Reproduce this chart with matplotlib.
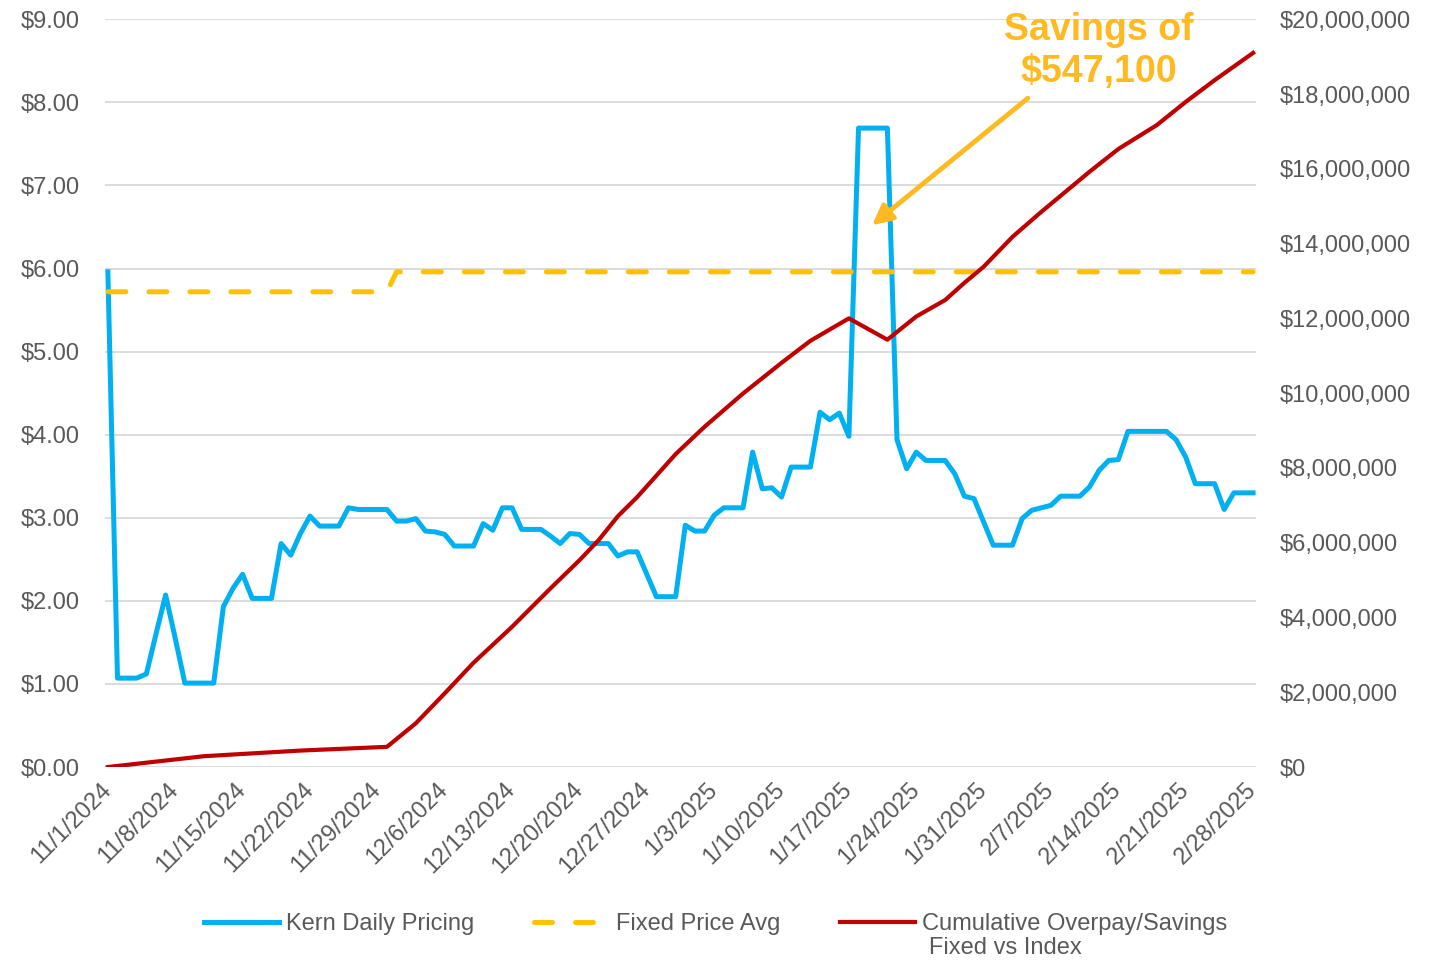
import numpy as np
import pandas as pd
import matplotlib
matplotlib.use("Agg")
import matplotlib.pyplot as plt
from matplotlib.ticker import FuncFormatter, MultipleLocator

plt.rcParams['font.family'] = ['Liberation Sans', 'DejaVu Sans']

# Data
dates = pd.date_range('2024-11-01', '2025-02-28', freq='D')

kern_daily = [
    5.96, 1.07, 1.07, 1.07, 1.12, 1.60, 2.07, 1.55, 1.01, 1.01,
    1.01, 1.01, 1.93, 2.15, 2.32, 2.03, 2.03, 2.03, 2.69, 2.55,
    2.81, 3.02, 2.90, 2.90, 2.90, 3.12, 3.10, 3.10, 3.10, 3.10,
    2.96, 2.96, 2.99, 2.84, 2.83, 2.80, 2.66, 2.66, 2.66, 2.93,
    2.85, 3.12, 3.12, 2.86, 2.86, 2.86, 2.78, 2.69, 2.81, 2.80,
    2.69, 2.69, 2.69, 2.54, 2.59, 2.59, 2.32, 2.05, 2.05, 2.05,
    2.91, 2.84, 2.84, 3.03, 3.12, 3.12, 3.12, 3.79, 3.35, 3.36,
    3.25, 3.61, 3.61, 3.61, 4.27, 4.18, 4.26, 3.98, 7.69, 7.69,
    7.69, 7.69, 3.94, 3.59, 3.79, 3.69, 3.69, 3.69, 3.53, 3.26,
    3.23, 2.95, 2.67, 2.67, 2.67, 2.99, 3.09, 3.12, 3.15, 3.26,
    3.26, 3.26, 3.37, 3.57, 3.69, 3.70, 4.04, 4.04, 4.04, 4.04,
    4.04, 3.94, 3.73, 3.41, 3.41, 3.41, 3.10, 3.30, 3.30, 3.30,
]

# fixed price: step change at the start of December
fixed_days = [0, 29, 30, 119]
fixed_price = [5.72, 5.72, 5.96, 5.96]

# cumulative overpay/savings (vertices of the line)
cum_days = [0, 10, 20, 29, 32, 35, 38, 42, 46, 49, 51, 53, 55, 59, 62, 66,
            70, 73, 77, 81, 84, 87, 89, 91, 94, 97, 102, 105, 109, 112, 115, 119]
cum_values = [0, 290000, 440000, 540000, 1170000, 1970000, 2790000, 3750000,
              4780000, 5530000, 6070000, 6710000, 7220000, 8370000, 9100000,
              9990000, 10810000, 11400000, 12000000, 11430000, 12050000,
              12490000, 12950000, 13380000, 14180000, 14850000, 15920000,
              16530000, 17170000, 17790000, 18370000, 19100000]

tick_idx = list(range(0, len(dates), 7))
tick_labels = [f"{d.month}/{d.day}/{d.year}" for d in dates[tick_idx]]

BLUE = '#00B0F0'
GOLD = '#FFC000'
RED = '#C00000'
ANNOT = '#FFB921'
GREY = '#595959'
FS = 17

fig = plt.figure(figsize=(14.4, 9.63), dpi=100)
ax = fig.add_axes([0.0729, 0.2035, 0.7993, 0.7765])
ax2 = ax.twinx()

x = np.arange(len(dates))
l1, = ax.plot(x, kern_daily, color=BLUE, lw=3.6, solid_joinstyle='round',
              label='Kern Daily Pricing')
l2, = ax.plot(fixed_days, fixed_price, color=GOLD, lw=3.6, ls=(0, (3.6, 4.6)),
              dash_capstyle='round', label='Fixed Price Avg')
l3, = ax2.plot(cum_days, cum_values, color=RED, lw=3.0, solid_joinstyle='round',
               label='Cumulative Overpay/Savings')

ax.set_xlim(-0.3, len(dates) - 1 + 0.3)
ax.set_ylim(0, 9)
ax.yaxis.set_major_locator(MultipleLocator(1))
ax.yaxis.set_major_formatter(FuncFormatter(lambda v, p: f"${v:.2f}"))
ax2.set_ylim(0, 20000000)
ax2.yaxis.set_major_locator(MultipleLocator(2000000))
ax2.yaxis.set_major_formatter(FuncFormatter(lambda v, p: f"${v:,.0f}"))

ax.set_xticks(tick_idx)
ax.set_xticklabels(tick_labels, rotation=45, ha='right', va='center',
                   rotation_mode='anchor')

ax.grid(axis='y', color='#D9D9D9', lw=1.3)
ax.set_axisbelow(True)
for a in (ax, ax2):
    for s in a.spines.values():
        s.set_visible(False)
ax.tick_params(axis='y', length=0, pad=18, labelsize=FS, labelcolor=GREY)
ax.tick_params(axis='x', length=0, pad=14, labelsize=FS, labelcolor=GREY)
ax2.tick_params(axis='y', length=0, pad=17, labelsize=FS, labelcolor=GREY)

# callout
ax.annotate('', xy=(79.4, 6.52), xytext=(95.6, 8.05),
            arrowprops=dict(arrowstyle='-|>', color=ANNOT, lw=3.5,
                            mutation_scale=30, shrinkA=0, shrinkB=0))
ax.text(103.0, 8.62, 'Savings of\n$547,100', color=ANNOT, fontsize=27,
        fontweight='bold', ha='center', va='center', linespacing=1.2)

leg = fig.legend(handles=[l1, l2, l3], loc='center',
                 bbox_to_anchor=(0.497, 1 - 924 / 963),
                 ncol=3, frameon=False, fontsize=FS, labelcolor=GREY,
                 handlelength=3.2, handletextpad=0.3, columnspacing=2.5)

# second line of the cumulative label, hanging under the first
fig.canvas.draw()
bb = leg.get_texts()[2].get_window_extent()
fig.text((bb.x0 + 7) / fig.bbox.width, (bb.y0 - 2) / fig.bbox.height,
         'Fixed vs Index', color=GREY, fontsize=FS, ha='left', va='top')

fig.savefig('out.png', dpi=100)
